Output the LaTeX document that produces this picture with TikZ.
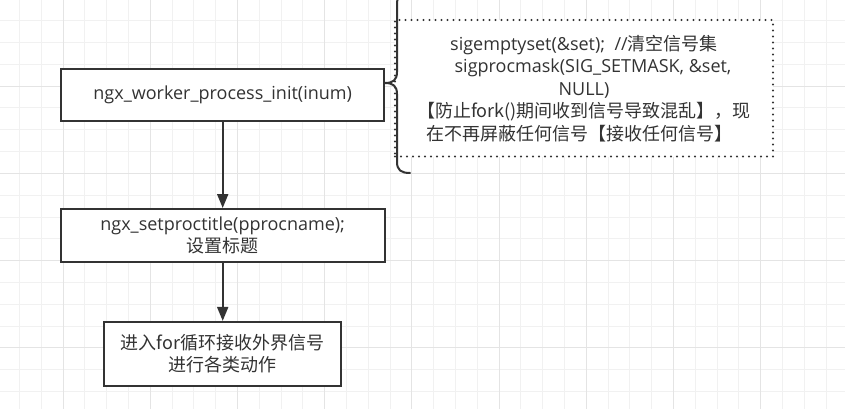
\documentclass[tikz,border=0pt]{standalone}
\usepackage{fontspec}
\setmainfont{Open Sans}
\newfontfamily\cjk{Noto Sans CJK SC}
\usepackage{tikz}
\usetikzlibrary{arrows.meta}
\definecolor{inkgray}{HTML}{333333}
\definecolor{gridminor}{HTML}{F1F1F1}
\definecolor{gridmajor}{HTML}{E4E4E4}

\begin{document}
\begin{tikzpicture}[x=1pt, y=-1pt,
  stepbox/.style={draw=inkgray, line width=2pt, fill=white, text=inkgray,
    align=center, inner sep=0pt, font=\fontsize{18}{21.7}\selectfont},
  notebox/.style={draw=inkgray, line width=2.2pt, line cap=round,
    dash pattern=on 0pt off 6pt, fill=white, text=inkgray,
    align=center, inner sep=0pt, font=\fontsize{18}{22.5}\selectfont},
  flow/.style={draw=inkgray, line width=2pt, -{Triangle[length=14pt,width=11pt]}}]
\useasboundingbox (0,0) rectangle (845,409);
\fill[white] (0,0) rectangle (845,409);
\foreach \gx in {-2.3,19.5,...,845} {\draw[gridminor, line width=1pt] (\gx,0) -- (\gx,409);}
\foreach \gy in {-1,20.8,...,409} {\draw[gridminor, line width=1pt] (0,\gy) -- (845,\gy);}
\foreach \gx in {63.1,150.3,...,845} {\draw[gridmajor, line width=1pt] (\gx,0) -- (\gx,409);}
\foreach \gy in {-1,86.2,...,409} {\draw[gridmajor, line width=1pt] (0,\gy) -- (845,\gy);}

\node[stepbox, minimum width=323pt, minimum height=52pt] (init) at (222.7,94.7)
  {ngx\_worker\_process\_init(inum)};
\node[stepbox, minimum width=324pt, minimum height=53pt] (title) at (222.7,235.5)
  {ngx\_setproctitle(pprocname);\\ \cjk{设置标题}};
\node[stepbox, minimum width=237pt, minimum height=64pt] (loop) at (222.7,353.9)
  {\cjk{进入}for\cjk{循环接收外界信号}\\ \cjk{进行各类动作}};
\node[notebox, minimum width=378pt, minimum height=136.5pt] (sig) at (584,88.3)
  {sigemptyset(\&set);\ \ //\cjk{清空信号集}\\
   \hspace*{18pt}sigprocmask(SIG\_SETMASK, \&set,\\
   NULL)\\
   \cjk{【防止}fork()\cjk{期间收到信号导致混乱】，现}\\
   \cjk{在不再屏蔽任何信号【接收任何信号】}\hspace*{10pt}};

\draw[inkgray, line width=2pt, line cap=round]
  (410,-7) .. controls (401,-7) and (397,-4) .. (397,4) -- (397,72)
  .. controls (397,80) and (393,83) .. (385,83)
  .. controls (393,83) and (397,86) .. (397,94) -- (397,162)
  .. controls (397,170) and (401,173) .. (410,173);

\foreach \p/\q in {init/title, title/loop}
{\draw[flow] (\p) -- (\q);}
\end{tikzpicture}
\end{document}
